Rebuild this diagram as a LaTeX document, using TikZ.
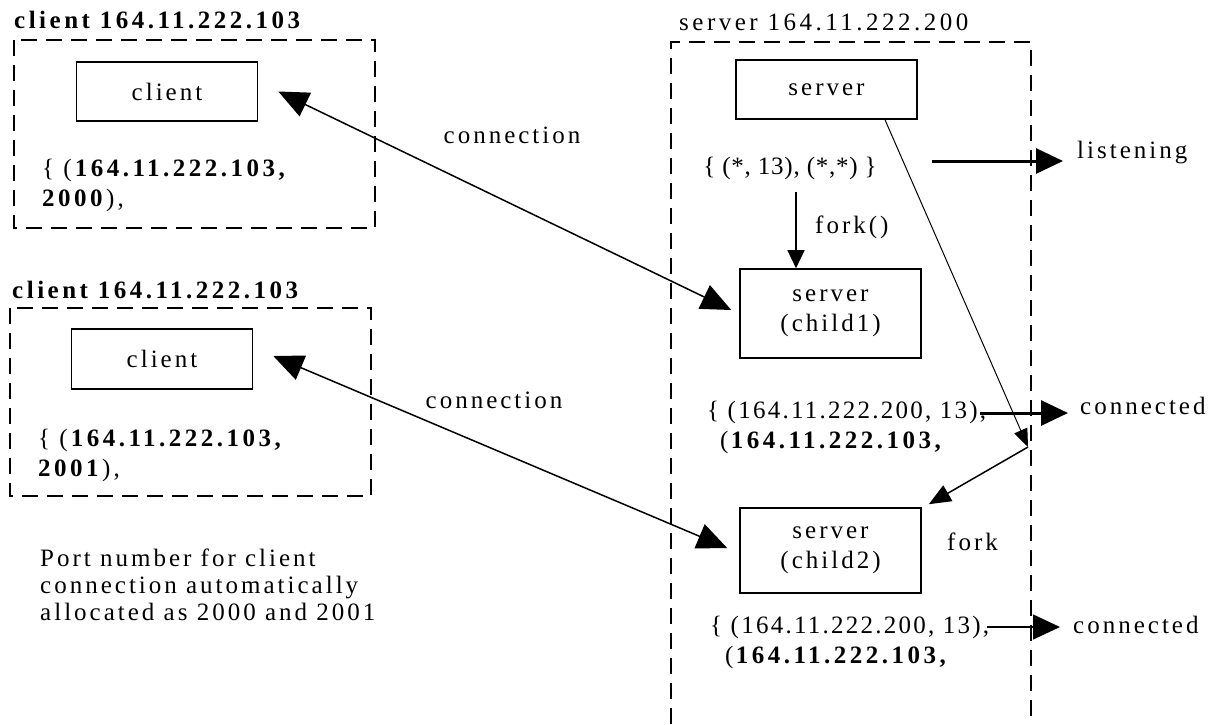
\documentclass[tikz,border=0pt]{standalone}
\usepackage{fontspec}
\setmainfont{Liberation Serif}[LetterSpace=12,BoldFeatures={LetterSpace=14}]
\newfontfamily\widefont{Liberation Serif}[LetterSpace=14]
\newfontfamily\tightfont{Liberation Serif}[LetterSpace=3]
\newfontfamily\addrfont{Liberation Serif}[LetterSpace=9,BoldFeatures={LetterSpace=14}]
\usetikzlibrary{arrows.meta, positioning}

\begin{document}
\begin{tikzpicture}[x=1pt, y=-1pt,
    every node/.style={font=\fontsize{25}{30}\selectfont, inner sep=0pt},
    proc/.style={draw, line width=1.6pt, minimum width=181pt, align=center},
    frame/.style={line width=2pt, dash pattern=on 16pt off 9pt},
    addr/.style={align=left, anchor=west, font=\addrfont\fontsize{25}{30}\selectfont},
    conn/.style={line width=1.5pt, {Triangle[length=30pt,width=26pt]}-{Triangle[length=30pt,width=26pt]}},
    state/.style={line width=3pt, -{Triangle[length=27pt,width=25pt]}}]
    \useasboundingbox (0,0) rectangle (1221,724);
    % First client
    \node[anchor=west] (hostA) at (14,20) {\textbf{client 164.11.222.103}};
    \draw[frame] (14,40) rectangle (375,228);
    \node[proc, minimum height=59pt] (clientA) at (167,91.5) {client};
    \node[align=left, anchor=west] (sockA) at (42,185) {\{ (\textbf{164.11.222.103,}\\\textbf{2000}),};
    % Second client
    \node[anchor=west] (hostB) at (12,290) {\textbf{client 164.11.222.103}};
    \draw[frame] (10,308) rectangle (371,496);
    \node[proc, minimum height=60pt] (clientB) at (162,359) {client};
    \node[align=left, anchor=west] (sockB) at (38,455) {\{ (\textbf{164.11.222.103,}\\\textbf{2001}),};
    % Note
    \node[align=left, anchor=west, font=\fontsize{25}{27}\selectfont] (note) at (40,585)
        {Port number for client\\connection automatically\\allocated as 2000 and 2001};
    % Server host
    \node[anchor=west, font=\widefont\fontsize{25}{30}\selectfont] (hostS) at (679,22) {server 164.11.222.200};
    \draw[frame] (671,724) -- (671,42) -- (1031,42) -- (1031,724);
    \node[proc, minimum height=59pt] (server) at (826.5,89.5) {server};
    \node[font=\tightfont\fontsize{25}{30}\selectfont] (lsock) at (790,168) {\{ (*, 13), (*,*) \}};
    \node[proc, minimum height=89pt] (child1) at (830.5,313.5) {server\\(child1)};
    \node[proc, minimum height=85pt] (child2) at (830.5,550.5) {server\\(child2)};
    \node[addr] (sock1) at (707,427) {\{ (164.11.222.200, 13),\\\hspace{13pt}(\textbf{164.11.222.103,}};
    \node[addr] (sock2) at (710,642) {\{ (164.11.222.200, 13),\\\hspace{15pt}(\textbf{164.11.222.103,}};
    % Labels
    \node (lblA) at (512,135) {connection};
    \node (lblB) at (494,400) {connection};
    \node[anchor=west] (lblfork) at (815,227) {fork()};
    \node[anchor=west] (lblsplit) at (947,542) {fork};
    \node[anchor=west] (listen) at (1077,153) {listening};
    \node[anchor=west] (est1) at (1080,406) {connected};
    \node[anchor=west] (est2) at (1073,625) {connected};
    % Free ends
    \coordinate (lsn) at (932,161);
    \coordinate (e1) at (980,413);
    \coordinate (e2) at (987,627);
    \coordinate (fk) at (796,192);
    \coordinate (split) at (1028,447);
    % Connections
    \draw[conn] ([xshift=20pt]clientA.east) -- ([shift={(-8pt,3.5pt)}]child1.west);
    \draw[conn] ([shift={(20pt,3pt)}]clientB.east) -- ([shift={(-12pt,2.5pt)}]child2.west);
    % States
    \draw[state, shorten >=14pt] (lsn) -- (lsn -| listen.west);
    \draw[state, shorten >=12pt] (e1) -- (e1 -| est1.west);
    \draw[state, line width=1.5pt, shorten >=13pt] (e2) -- (e2 -| est2.west);
    % Forks
    \draw[line width=1.5pt, -{Triangle[length=18pt,width=17pt]}] (fk) -- (fk |- child1.north);
    \draw[line width=1pt, -{Triangle[length=18pt,width=14pt]}] ([xshift=58.5pt]server.south) -- (split);
    \draw[line width=1.5pt, -{Triangle[length=22pt,width=18pt]}] (split) -- ([shift={(7pt,3pt)}]child2.north east);
\end{tikzpicture}
\end{document}
